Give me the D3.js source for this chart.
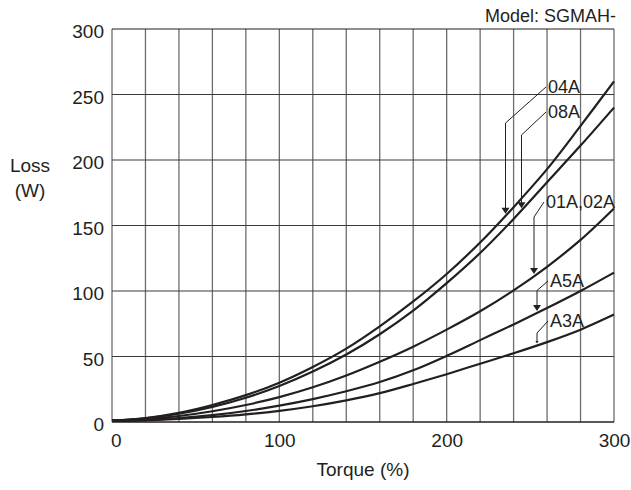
<!DOCTYPE html>
<html><head><meta charset="utf-8">
<script src="https://cdn.jsdelivr.net/npm/d3@7"></script>
<style>
html,body{margin:0;padding:0;background:#fff;}
svg text{font-family:"Liberation Sans",Arial,Helvetica,sans-serif;fill:#231f20;}
</style></head>
<body><svg id="c" width="631" height="490"></svg>
<script>
const torque = [0,20,40,60,80,100,120,140,160,180,200,220,240,260,280,300];
const loss04A = [1,3,7,13,20.5,30,42,56,73,92,113,137,164,193,226,260];
const loss08A = [1,2.8,6.3,11.5,18.5,27.5,38.5,51.5,67,85,106,129,155,183,211,240];
const loss01A02A = [1,2.2,4.6,8.2,13,19,26.5,35.5,46,57.5,70.5,84.5,100.5,118.5,139,163];
const lossA5A = [1,1.6,3,5.2,8.4,12.5,17.5,23.5,30.5,39.5,50.5,62.5,74.5,87,100,114];
const lossA3A = [0.8,1.3,2.3,3.8,5.8,8.5,12,16.5,22,29,36.5,44.5,52.5,61,70.5,82];
const seriesNames = ["04A","08A","01A,02A","A5A","A3A"];
const xTicks = [0,100,200,300];
const yTicks = [0,50,100,150,200,250,300];
const xGrid = d3.range(0,301,20);

const svg = d3.select("#c");
const L=112,R=614,T=29,B=422;
const x = d3.scaleLinear().domain([0,300]).range([L,R]);
const y = d3.scaleLinear().domain([0,300]).range([B,T]);

// grid
svg.append("g").selectAll("line").data(xGrid).join("line")
  .attr("x1",d=>x(d)).attr("x2",d=>x(d)).attr("y1",T).attr("y2",B)
  .attr("stroke","#6d6d6d").attr("stroke-width",1.3);
svg.append("g").selectAll("line").data(yTicks).join("line")
  .attr("x1",L).attr("x2",R).attr("y1",d=>y(d)).attr("y2",d=>y(d))
  .attr("stroke",d=>(d===0||d===300)?"#231f20":"#3a3a3a").attr("stroke-width",d=>(d===0)?1.5:1.1);

// axes
const ax = svg.append("g").attr("transform",`translate(0,${B})`)
  .call(d3.axisBottom(x).tickValues(xTicks).tickSize(0).tickPadding(12));
ax.select(".domain").remove();
ax.selectAll("text").attr("font-size",19).attr("fill","#231f20")
  .attr("dx",d=>d===0?"0.2em":0);
const ay = svg.append("g").attr("transform",`translate(${L},0)`)
  .call(d3.axisLeft(y).tickValues(yTicks).tickSize(0).tickPadding(8));
ay.select(".domain").remove();
ay.selectAll("text").attr("font-size",19).attr("fill","#231f20").attr("dy","0.45em");

svg.append("text").attr("x",30).attr("y",172).attr("text-anchor","middle").attr("font-size",19).text("Loss");
svg.append("text").attr("x",30).attr("y",197).attr("text-anchor","middle").attr("font-size",19).text("(W)");
svg.append("text").attr("x",(L+R)/2).attr("y",476).attr("text-anchor","middle").attr("font-size",19).text("Torque (%)");
svg.append("text").attr("x",616).attr("y",22).attr("text-anchor","end").attr("font-size",18).text("Model: SGMAH-");

// curves
const allSeries = [loss04A, loss08A, loss01A02A, lossA5A, lossA3A];
const line = d3.line().x((d,i)=>x(torque[i])).y(d=>y(d)).curve(d3.curveCatmullRom.alpha(0.5));
svg.append("g").selectAll("path").data(allSeries).join("path")
  .attr("d",line).attr("fill","none").attr("stroke","#231f20").attr("stroke-width",2.2);

// labels with leader lines
const labelPos = [ // [text x, text baseline y, elbow x, elbow y, arrow scale]
  [548,93,505.5,123,1],
  [548,118,521.5,135,1],
  [546,208,534,217,1],
  [550,287,537,290.5,1],
  [550,327,537,333,0.4]
];
seriesNames.forEach((name,k)=>{
  const p = labelPos[k];
  const vals = allSeries[k];
  const interp = d3.scaleLinear().domain(torque).range(vals);
  const tipY = y(interp(x.invert(p[2]))) - 2;
  const g = svg.append("g");
  g.append("text").attr("x",p[0]).attr("y",p[1]).attr("font-size",18).text(name);
  g.append("polyline").attr("points",`${p[0]-2},${p[1]-6} ${p[2]},${p[3]} ${p[2]},${tipY-5*p[4]}`)
    .attr("fill","none").attr("stroke","#231f20").attr("stroke-width",1);
  const s = p[4];
  g.append("path").attr("d",`M${p[2]-4*s},${tipY-6*s} L${p[2]+4*s},${tipY-6*s} L${p[2]},${tipY} Z`).attr("fill","#231f20");
});
</script></body></html>
